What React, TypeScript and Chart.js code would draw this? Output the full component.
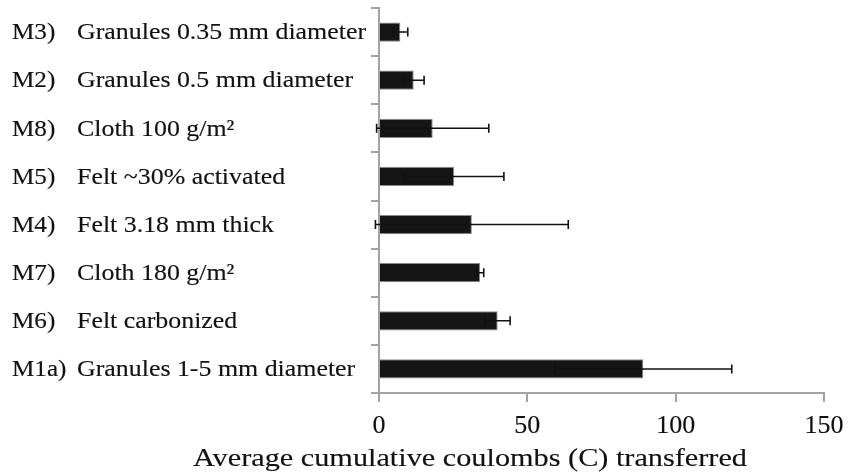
import React, { useEffect, useRef } from "react";
import { Chart, registerables } from "chart.js";

Chart.register(...registerables);

const codes = ["M3)", "M2)", "M8)", "M5)", "M4)", "M7)", "M6)", "M1a)"];
const descriptions = [
  "Granules 0.35 mm diameter",
  "Granules 0.5 mm diameter",
  "Cloth 100 g/m²",
  "Felt ~30% activated",
  "Felt 3.18 mm thick",
  "Cloth 180 g/m²",
  "Felt carbonized",
  "Granules 1-5 mm diameter",
];
const means = [7.2, 11.7, 18.1, 25.3, 31.3, 34.1, 40.0, 89.1];
const errors = [2.5, 3.5, 18.9, 16.8, 32.5, 1.2, 4.2, 29.8];
const xTicks = [0, 50, 100, 150];
const xTitle = "Average cumulative coulombs (C) transferred";

const SERIF = '"Liberation Serif", "Times New Roman", serif';
const TEXT = "#111111";
const AXIS = "#a3a3a3";

function stretchedText(
  ctx: CanvasRenderingContext2D,
  text: string,
  x: number,
  y: number,
  size: number,
  sx: number,
  align: CanvasTextAlign
) {
  ctx.save();
  ctx.font = `${size}px ${SERIF}`;
  ctx.fillStyle = TEXT;
  ctx.strokeStyle = TEXT;
  ctx.lineWidth = 0.15;
  ctx.textAlign = align;
  ctx.textBaseline = "alphabetic";
  ctx.translate(x, y);
  ctx.scale(sx, 1);
  ctx.fillText(text, 0, 0);
  ctx.strokeText(text, 0, 0);
  ctx.restore();
}

const errorBarPlugin = {
  id: "errorBars",
  afterDatasetsDraw(chart: any) {
    const ctx = chart.ctx as CanvasRenderingContext2D;
    const xs = chart.scales.x;
    const meta = chart.getDatasetMeta(0);
    ctx.save();
    ctx.strokeStyle = "#111";
    ctx.lineWidth = 1.6;
    meta.data.forEach((bar: any, i: number) => {
      const y = bar.y;
      const x1 = xs.getPixelForValue(means[i] - errors[i]);
      const x2 = xs.getPixelForValue(means[i] + errors[i]);
      ctx.beginPath();
      ctx.moveTo(x1, y);
      ctx.lineTo(x2, y);
      ctx.moveTo(x1, y - 4.5);
      ctx.lineTo(x1, y + 4.5);
      ctx.moveTo(x2, y - 4.5);
      ctx.lineTo(x2, y + 4.5);
      ctx.stroke();
    });
    ctx.restore();
  },
};

const labelPlugin = {
  id: "stretchedLabels",
  afterDraw(chart: any) {
    const ctx = chart.ctx as CanvasRenderingContext2D;
    const ys = chart.scales.y;
    const xs = chart.scales.x;
    const catSize = 23.5;
    const sx = 1.07;
    ctx.save();
    ctx.font = `${catSize}px ${SERIF}`;
    const space = ctx.measureText(" ").width * sx;
    const descW = ctx.measureText(descriptions[0]).width;
    const descSx = 289 / descW;
    codes.forEach((code, i) => {
      const yc = ys.getPixelForValue(i);
      const base = yc + (catSize * 0.662) / 2 - 0.5;
      stretchedText(ctx, code, 12, base, catSize, sx, "left");
      ctx.font = `${catSize}px ${SERIF}`;
      const codeW = ctx.measureText(code).width * sx;
      const dx = Math.max(77, 12 + codeW + space);
      stretchedText(ctx, descriptions[i], dx, base, catSize, descSx, "left");
    });
    ctx.font = `25.5px ${SERIF}`;
    const titleW = ctx.measureText(xTitle).width;
    ctx.restore();
    xTicks.forEach((v) => {
      stretchedText(ctx, String(v), xs.getPixelForValue(v), 433, 25, 1.04, "center");
    });
    stretchedText(ctx, xTitle, 470, 466, 25.5, 554 / titleW, "center");
  },
};

export default function App() {
  const ref = useRef<HTMLCanvasElement>(null);
  useEffect(() => {
    if (!ref.current) return;
    const chart = new Chart(ref.current, {
      type: "bar",
      data: {
        labels: codes.map((c, i) => `${c} ${descriptions[i]}`),
        datasets: [
          {
            data: means,
            backgroundColor: "#151515",
            borderColor: "#8a8a8a",
            borderWidth: 1,
            barPercentage: 0.4,
            categoryPercentage: 1,
          },
        ],
      },
      options: {
        indexAxis: "y",
        animation: false,
        responsive: false,
        maintainAspectRatio: false,
        layout: { padding: { left: 379, right: 34, top: 8, bottom: 83 } },
        plugins: { legend: { display: false }, tooltip: { enabled: false } },
        scales: {
          x: {
            min: 0,
            max: 150,
            afterFit: (s: any) => {
              s.height = 0;
            },
            ticks: { display: false, stepSize: 50 },
            afterBuildTicks: (s: any) => {
              s.ticks = xTicks.map((v) => ({ value: v }));
            },
            grid: {
              drawOnChartArea: false,
              drawTicks: true,
              tickLength: 9,
              color: AXIS,
              lineWidth: 2,
            },
            border: { display: true, color: AXIS, width: 2 },
          },
          y: {
            afterFit: (s: any) => {
              s.width = 0;
            },
            ticks: { display: false },
            grid: {
              drawOnChartArea: false,
              drawTicks: true,
              tickLength: 8,
              offset: true,
              color: AXIS,
              lineWidth: 2,
            },
            border: { display: true, color: AXIS, width: 2 },
          },
        },
      },
      plugins: [errorBarPlugin, labelPlugin],
    });
    return () => chart.destroy();
  }, []);
  return (
    <div style={{ position: "fixed", left: 0, top: 0, width: 858, height: 476, background: "#fff" }}>
      <canvas ref={ref} width={858} height={476} />
    </div>
  );
}
